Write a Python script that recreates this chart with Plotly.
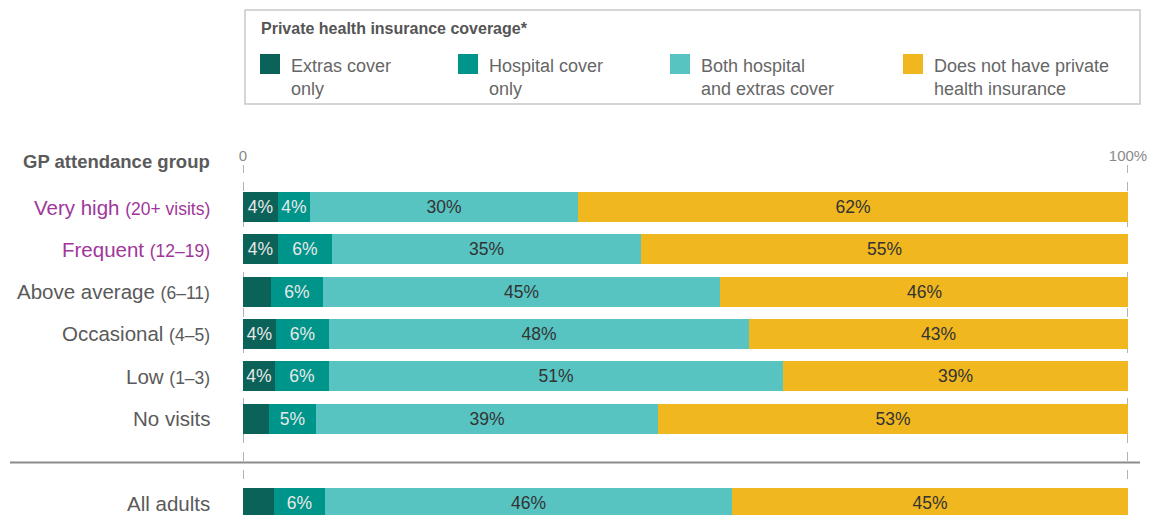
import plotly.graph_objects as go

# ---------------- data ----------------
categories = ["Very high", "Frequent", "Above average", "Occasional", "Low", "No visits", "All adults"]
subtitles = ["(20+ visits)", "(12–19)", "(6–11)", "(4–5)", "(1–3)", "", ""]
highlight = [True, True, False, False, False, False, False]

series_names = ["Extras cover<br>only", "Hospital cover<br>only",
                "Both hospital<br>and extras cover", "Does not have private<br>health insurance"]
extras = [4.0, 4.0, 3.2, 3.7, 3.6, 2.9, 3.5]
hospital = [3.6, 6.0, 5.8, 6.0, 6.1, 5.4, 5.8]
both = [30.3, 35.0, 44.9, 47.5, 51.3, 38.6, 45.9]
no_phi = [62.1, 55.0, 46.2, 42.8, 39.0, 53.1, 44.8]

extras_lbl = ["4%", "4%", "", "4%", "4%", "", ""]
hospital_lbl = ["4%", "6%", "6%", "6%", "6%", "5%", "6%"]
both_lbl = ["30%", "35%", "45%", "48%", "51%", "39%", "46%"]
no_phi_lbl = ["62%", "55%", "46%", "43%", "39%", "53%", "45%"]

x_tick_vals = [0, 100]
x_tick_text = ["0", "100%"]

# ---------------- styling ----------------
colors = ["#0b6259", "#00958a", "#57c4c2", "#f0b81e"]
text_colors = ["#e8e8e8", "#e8e8e8", "#333333", "#333333"]
PURPLE = "#a0369a"
GREY = "#5a5a5a"
FONT = "Liberation Sans"

W, H = 1152, 515
ML, MR, MT, MB = 243, 24, 165, 0
plot_w = W - ML - MR
plot_h = H - MT - MB

def px2x(px):
    return (px - ML) / plot_w

def py2y(py):
    return (H - MB - py) / plot_h

# row positions: groups then a gap row, then "All adults"
ypos = [i if i < len(categories) - 1 else i + 1 for i in range(len(categories))]

fig = go.Figure()
all_vals = [extras, hospital, both, no_phi]
all_lbls = [extras_lbl, hospital_lbl, both_lbl, no_phi_lbl]
for name, vals, lbls, col, tcol in zip(series_names, all_vals, all_lbls, colors, text_colors):
    fig.add_trace(go.Bar(
        x=vals, y=ypos, orientation="h", name=name.replace("<br>", " "),
        marker=dict(color=col, line=dict(width=0)),
        text=lbls, textposition="inside", insidetextanchor="middle",
        textangle=0, textfont=dict(color=tcol, size=17.5, family=FONT),
        width=0.71, showlegend=False, hoverinfo="skip",
    ))

fig.update_layout(
    barmode="stack",
    width=W, height=H,
    margin=dict(l=ML, r=MR, t=MT, b=MB, pad=0),
    plot_bgcolor="white", paper_bgcolor="white",
    font=dict(family=FONT, color=GREY),
    bargap=0,
    uniformtext=dict(minsize=17.5, mode="show"),
    xaxis=dict(range=[0, 100], side="top", tickvals=x_tick_vals, ticktext=x_tick_text,
               showgrid=False, zeroline=False, showline=False, ticks="",
               tickfont=dict(size=15, color="#8a8a8a", family=FONT), fixedrange=True),
    yaxis=dict(range=[7.28, -0.993], showticklabels=False, showgrid=False,
               zeroline=False, showline=False, ticks="", fixedrange=True),
)

# dashed reference lines at 0 and 100%
for xv in x_tick_vals:
    fig.add_shape(type="line", xref="x", yref="paper", x0=xv, x1=xv, y0=0, y1=1,
                  line=dict(color="#9a9a9a", width=1.5, dash="dash"), layer="below")

# separator line above "All adults"
fig.add_shape(type="line", xref="paper", yref="y", x0=px2x(10), x1=px2x(1140),
              y0=(ypos[-2] + ypos[-1]) / 2 + 0.04, y1=(ypos[-2] + ypos[-1]) / 2 + 0.04,
              line=dict(color="#8c8c8c", width=2))

# category labels
for cat, sub, hl, y in zip(categories, subtitles, highlight, ypos):
    col = PURPLE if hl else GREY
    txt = cat if not sub else f"{cat} <span style='font-size:17.5px'>{sub}</span>"
    fig.add_annotation(x=px2x(212), xref="paper", y=y, yref="y", text=txt,
                       showarrow=False, xanchor="right", yanchor="middle",
                       font=dict(size=20.5, color=col, family=FONT))

# header
fig.add_annotation(x=px2x(212), xref="paper", y=py2y(162), yref="paper",
                   text="<b>GP attendance group</b>", showarrow=False,
                   xanchor="right", yanchor="middle",
                   font=dict(size=18.5, color=GREY, family=FONT))

# legend box (manual)
fig.add_shape(type="rect", xref="paper", yref="paper",
              x0=px2x(245), x1=px2x(1140), y0=py2y(104), y1=py2y(10),
              line=dict(color="#c8c8c8", width=1.5), fillcolor="white")
fig.add_annotation(x=px2x(259), xref="paper", y=py2y(28), yref="paper",
                   text="<b>Private health insurance coverage*</b>", showarrow=False,
                   xanchor="left", yanchor="middle",
                   font=dict(size=16, color="#555555", family=FONT))
legend_x = [260, 458, 670, 903]
for lx, name, col in zip(legend_x, series_names, colors):
    fig.add_shape(type="rect", xref="paper", yref="paper",
                  x0=px2x(lx), x1=px2x(lx + 20), y0=py2y(74), y1=py2y(54),
                  line=dict(width=0), fillcolor=col)
    fig.add_annotation(x=px2x(lx + 29), xref="paper", y=py2y(54), yref="paper",
                       text=name, showarrow=False, xanchor="left", yanchor="top",
                       align="left", font=dict(size=18, color="#666666", family=FONT))

fig.write_html("out.html", config={"displayModeBar": False},
               post_script="document.body.style.margin='0px';")
